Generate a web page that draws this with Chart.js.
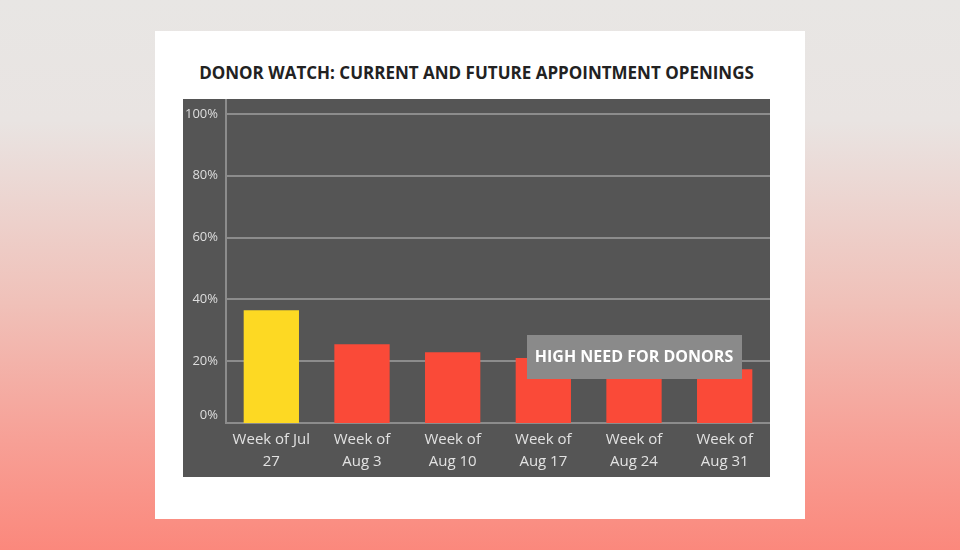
<!DOCTYPE html>
<html>
<head>
<meta charset="utf-8">
<script src="https://cdn.jsdelivr.net/npm/chart.js@4.4.1/dist/chart.umd.min.js"></script>
<style>
  html, body { margin: 0; padding: 0; }
  body {
    width: 960px; height: 550px; overflow: hidden; position: relative;
    background: linear-gradient(180deg, #e8e6e4 0%, #e9e4e2 22%, #f0c1b9 55%, #f7a096 80%, #fb887c 100%);
    font-family: "Open Sans", "Noto Sans", sans-serif;
  }
  .card { position: absolute; left: 155px; top: 31px; width: 650px; height: 488px; background: #fff; }
  .title {
    position: absolute; left: 183px; top: 61px; width: 587px; text-align: center;
    font-weight: 700; font-size: 17px; color: #222; letter-spacing: 0;
  }
  .wrap { position: absolute; left: 183px; top: 99px; width: 587px; height: 378px; background: #555555; }
</style>
</head>
<body>
<div class="card"></div>
<div class="title">DONOR WATCH: CURRENT AND FUTURE APPOINTMENT OPENINGS</div>
<div class="wrap"><canvas id="c"></canvas></div>
<script>
  // values (% of appointments open)
  var weeks = [["Week of Jul", "27"], ["Week of", "Aug 3"], ["Week of", "Aug 10"],
               ["Week of", "Aug 17"], ["Week of", "Aug 24"], ["Week of", "Aug 31"]];
  var openings = [36.5, 25.5, 22.9, 21.0, 19.5, 17.4];
  var barColors = ["#fdd923", "#fa4a38", "#fa4a38", "#fa4a38", "#fa4a38", "#fa4a38"];
  var yTicks = [0, 20, 40, 60, 80, 100];
  var note = "HIGH NEED FOR DONORS";

  // y labels drawn by hand so the 0% one can sit a little higher, like the original
  var yLabels = {
    id: "yLabels",
    afterDraw: function (chart) {
      var ctx = chart.ctx, y = chart.scales.y, left = chart.chartArea.left;
      ctx.save();
      ctx.font = "13px 'Open Sans'";
      ctx.fillStyle = "#dedede";
      ctx.textAlign = "right";
      ctx.textBaseline = "middle";
      yTicks.forEach(function (v) {
        var py = y.getPixelForValue(v) + (v === 0 ? -8 : 0);
        ctx.fillText(v + "%", left - 8, py);
      });
      ctx.restore();
    }
  };

  // the grey "HIGH NEED FOR DONORS" call-out, centred on the Aug 24 bar
  var callout = {
    id: "callout",
    afterDatasetsDraw: function (chart) {
      var ctx = chart.ctx, x = chart.scales.x, y = chart.scales.y;
      var cx = x.getPixelForValue(4);
      var cy = y.getPixelForValue(21.4);
      var w = 215, h = 44;
      ctx.save();
      ctx.fillStyle = "#8a8a8a";
      ctx.fillRect(Math.round(cx - w / 2), Math.round(cy - h / 2), w, h);
      ctx.font = "bold 16px 'Open Sans'";
      ctx.fillStyle = "#ffffff";
      ctx.textAlign = "center";
      ctx.textBaseline = "middle";
      ctx.fillText(note, cx, cy + 1);
      ctx.restore();
    }
  };

  new Chart(document.getElementById("c"), {
    type: "bar",
    data: {
      labels: weeks,
      datasets: [{ data: openings, backgroundColor: barColors, borderWidth: 0,
                   categoryPercentage: 0.61, barPercentage: 1 }]
    },
    options: {
      responsive: true, maintainAspectRatio: false, animation: false,
      layout: { padding: { left: 43, right: 0, top: 0, bottom: 0 } },
      plugins: { legend: { display: false }, tooltip: { enabled: false } },
      scales: {
        x: {
          afterFit: function (s) { s.height = 54; },
          grid: { display: false, drawTicks: false },
          border: { color: "#8c8c8c", width: 2 },
          ticks: { color: "#e2e2e2", font: { family: "Open Sans", size: 15, lineHeight: 1.45 }, padding: 6, maxRotation: 0 }
        },
        y: {
          min: 0, max: 104.8,
          afterBuildTicks: function (s) { s.ticks = yTicks.map(function (v) { return { value: v }; }); },
          grid: { color: "#8c8c8c", lineWidth: function (c) { return c.tick && c.tick.value === 0 ? 0 : 2; }, drawTicks: false },
          border: { color: "#8c8c8c", width: 2 },
          ticks: { display: false }
        }
      }
    },
    plugins: [yLabels, callout]
  });
</script>
</body>
</html>
